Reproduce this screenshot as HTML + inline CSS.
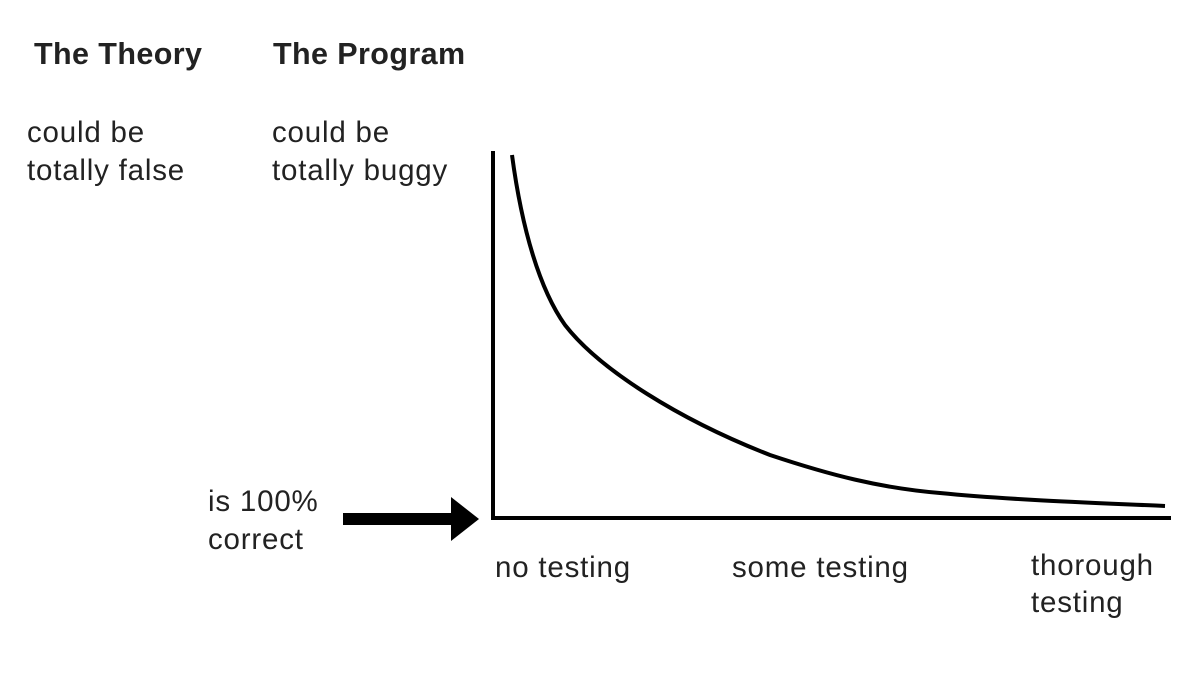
<!DOCTYPE html>
<html><head><style>
body{margin:0;width:1200px;height:681px;background:#fff;position:relative;overflow:hidden;font-family:"Liberation Sans",Arial,sans-serif;color:#222}
.t{position:absolute;font-size:29.5px;line-height:38px;white-space:nowrap;letter-spacing:0.8px}
.b{font-weight:bold;font-size:30.5px;letter-spacing:0.4px}
</style></head><body>
<div class="t b" style="left:34px;top:35px">The Theory</div>
<div class="t b" style="left:273px;top:35px">The Program</div>
<div class="t" style="left:27px;top:114px">could be<br>totally false</div>
<div class="t" style="left:272px;top:114px">could be<br>totally buggy</div>
<div class="t" style="left:208px;top:483px">is 100%<br>correct</div>
<div class="t" style="left:495px;top:549px">no testing</div>
<div class="t" style="left:732px;top:549px">some testing</div>
<div class="t" style="left:1031px;top:547px;line-height:37px">thorough<br>testing</div>
<svg width="1200" height="681" style="position:absolute;left:0;top:0">
<line x1="493" y1="151" x2="493" y2="520" stroke="#000" stroke-width="4"/>
<line x1="491" y1="518" x2="1171" y2="518" stroke="#000" stroke-width="4"/>
<rect x="343" y="513" width="110" height="12" fill="#000"/>
<polygon points="451,497 479,519 451,541" fill="#000"/>
<path d="M512,155 C522,230 540,290 565,325 C600,370 680,420 770,455 C830,475 880,488 940,493 C1010,500 1100,503 1165,506" fill="none" stroke="#000" stroke-width="4"/>
</svg>
</body></html>
